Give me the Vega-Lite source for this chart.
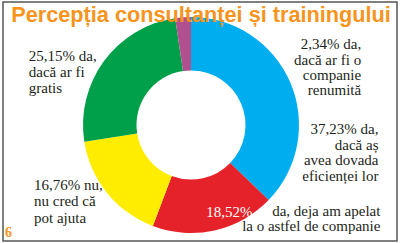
{
  "$schema": "https://vega.github.io/schema/vega-lite/v6.json",
  "width": 394,
  "height": 239,
  "autosize": {"type": "none"},
  "padding": {"left": 3, "top": 2, "right": 3, "bottom": 2},
  "background": "white",
  "view": {"stroke": "#555555", "strokeWidth": 1.5, "fill": "white"},
  "data": {
    "values": [
      {"key": "blue", "order": 1, "value": 37.23, "label": "37,23% da,\ndacă aș\navea dovada\neficienței lor", "pct": ""},
      {"key": "red", "order": 2, "value": 18.52, "label": "da, deja am apelat\nla o astfel de companie", "pct": "18,52%"},
      {"key": "yellow", "order": 3, "value": 16.76, "label": "16,76% nu,\nnu cred că\npot ajuta", "pct": ""},
      {"key": "green", "order": 4, "value": 25.15, "label": "25,15% da,\ndacă ar fi\ngratis", "pct": ""},
      {"key": "purple", "order": 5, "value": 2.34, "label": "2,34% da,\ndacă ar fi o\ncompanie\nrenumită", "pct": ""}
    ]
  },
  "layer": [
    {
      "mark": {"type": "arc", "outerRadius": 108, "innerRadius": 54.5, "x": 188, "y": 123},
      "encoding": {
        "theta": {"field": "value", "type": "quantitative", "stack": true},
        "order": {"field": "order", "type": "quantitative"},
        "color": {
          "field": "key", "type": "nominal", "legend": null,
          "scale": {"domain": ["blue", "red", "yellow", "green", "purple"], "range": ["#00AEEF", "#E52229", "#FFED00", "#00A04A", "#B0508E"]}
        }
      }
    },
    {
      "mark": {"type": "text", "x": 188, "y": 121, "radius": 107, "dx": 178, "dy": 33, "align": "right", "baseline": "alphabetic", "lineBreak": "\n", "lineHeight": 15.3, "fontSize": 15, "font": "Liberation Sans Narrow", "fill": "#231F20"},
      "encoding": {
        "theta": {"field": "value", "type": "quantitative", "stack": true},
        "order": {"field": "order", "type": "quantitative"},
        "text": {"condition": {"test": "datum.key === 'purple'", "field": "label"}, "value": ""}
      }
    },
    {
      "mark": {"type": "text", "x": 188, "y": 121, "radius": 107, "dx": 89, "dy": 53, "align": "right", "baseline": "alphabetic", "lineBreak": "\n", "lineHeight": 15.5, "fontSize": 15, "font": "Liberation Sans Narrow", "fill": "#231F20"},
      "encoding": {
        "theta": {"field": "value", "type": "quantitative", "stack": true},
        "order": {"field": "order", "type": "quantitative"},
        "text": {"condition": {"test": "datum.key === 'blue'", "field": "label"}, "value": ""}
      }
    },
    {
      "mark": {"type": "text", "x": 188, "y": 121, "radius": 107, "dx": 166, "dy": -11, "align": "right", "baseline": "alphabetic", "lineBreak": "\n", "lineHeight": 15, "fontSize": 15, "font": "Liberation Sans Narrow", "fill": "#231F20"},
      "encoding": {
        "theta": {"field": "value", "type": "quantitative", "stack": true},
        "order": {"field": "order", "type": "quantitative"},
        "text": {"condition": {"test": "datum.key === 'red'", "field": "label"}, "value": ""}
      }
    },
    {
      "mark": {"type": "text", "x": 188, "y": 121, "radius": 107, "dx": 15, "dy": -10, "align": "center", "baseline": "alphabetic", "fontSize": 15, "font": "Liberation Sans Narrow", "fill": "white"},
      "encoding": {
        "theta": {"field": "value", "type": "quantitative", "stack": true},
        "order": {"field": "order", "type": "quantitative"},
        "text": {"field": "pct"}
      }
    },
    {
      "mark": {"type": "text", "x": 188, "y": 121, "radius": 107, "dx": -74, "dy": -1, "align": "left", "baseline": "alphabetic", "lineBreak": "\n", "lineHeight": 16.5, "fontSize": 15, "font": "Liberation Sans Narrow", "fill": "#231F20"},
      "encoding": {
        "theta": {"field": "value", "type": "quantitative", "stack": true},
        "order": {"field": "order", "type": "quantitative"},
        "text": {"condition": {"test": "datum.key === 'yellow'", "field": "label"}, "value": ""}
      }
    },
    {
      "mark": {"type": "text", "x": 188, "y": 121, "radius": 107, "dx": -76, "dy": 1, "align": "left", "baseline": "alphabetic", "lineBreak": "\n", "lineHeight": 16, "fontSize": 15, "font": "Liberation Sans Narrow", "fill": "#231F20"},
      "encoding": {
        "theta": {"field": "value", "type": "quantitative", "stack": true},
        "order": {"field": "order", "type": "quantitative"},
        "text": {"condition": {"test": "datum.key === 'green'", "field": "label"}, "value": ""}
      }
    },
    {
      "data": {"values": [{"from": "purple"}]},
      "mark": {"type": "rule", "x": 182, "x2": 293, "y": 41, "y2": 41, "stroke": "#333333", "strokeWidth": 1},
      "encoding": {}
    },
    {
      "data": {"values": [{"t": "Percepția consultanței și trainingului"}]},
      "mark": {"type": "text", "x": 198, "y": 20, "align": "center", "baseline": "alphabetic", "font": "Liberation Sans", "fontWeight": "bold", "fontSize": 21.7, "fill": "#F7941D"},
      "encoding": {"text": {"field": "t"}}
    },
    {
      "data": {"values": [{"t": "6"}]},
      "mark": {"type": "text", "x": 2, "y": 235, "align": "left", "baseline": "alphabetic", "font": "Liberation Sans Narrow", "fontWeight": "bold", "fontSize": 14, "fill": "#F7941D"},
      "encoding": {"text": {"field": "t"}}
    }
  ]
}
